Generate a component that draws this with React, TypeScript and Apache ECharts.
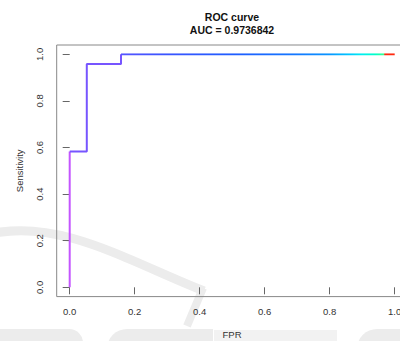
import React, { useEffect, useRef } from "react";
import * as echarts from "echarts";

// ROC points (false positive rate, sensitivity)
const fpr = [0, 0, 0.0526, 0.0526, 0.1579, 0.1579, 1];
const tpr = [0, 0.5833, 0.5833, 0.9583, 0.9583, 1, 1];
// colour segments along the curve (index ranges into fpr/tpr)
const segStart = [0, 1, 5];
const segEnd = [1, 5, 6];
const segColors = ["#c455ff", "#7755ff", "gradient"];
const tickValues = [0, 0.2, 0.4, 0.6, 0.8, 1.0];
const titleLines = ["ROC curve", "AUC = 0.9736842"];
const xName = "FPR";
const yName = "Sensitivity";

const FONT = "Liberation Sans, Arial, Helvetica, sans-serif";
const GL = 69.7, GT = 54.3, GW = 325, GH = 233;

export default function App() {
  const ref = useRef<HTMLDivElement>(null);
  useEffect(() => {
    if (!ref.current) return;
    const chart = echarts.init(ref.current, undefined, { renderer: "svg" });
    const pts = fpr.map((x, i) => [x, tpr[i]]);
    const gx1 = GL + fpr[segStart[2]] * GW;
    const gx2 = GL + fpr[segEnd[2]] * GW;
    const gradient = new echarts.graphic.LinearGradient(0, 0, 0, 0, [
      { offset: 0, color: "#5555ff" },
      { offset: 0.17, color: "#3a55ff" },
      { offset: 0.42, color: "#1f5eff" },
      { offset: 0.64, color: "#1478ff" },
      { offset: 0.76, color: "#0a95ff" },
      { offset: 0.83, color: "#00c4ff" },
      { offset: 0.88, color: "#00eef0" },
      { offset: 0.93, color: "#00ffc8" },
      { offset: 0.962, color: "#40ff88" },
      { offset: 0.963, color: "#ff2a10" },
      { offset: 1, color: "#ff2a10" },
    ]);
    (gradient as any).x = gx1;
    (gradient as any).y = 0;
    (gradient as any).x2 = gx2;
    (gradient as any).y2 = 0;
    (gradient as any).global = true;

    const series = segStart.map((s, k) => ({
      type: "line",
      data: pts.slice(s, segEnd[k] + 1),
      showSymbol: false,
      symbol: "none",
      lineStyle: {
        width: 2,
        color: segColors[k] === "gradient" ? gradient : segColors[k],
      },
      z: 5,
    }));

    const wm = "#ececec";
    chart.setOption({
      animation: false,
      grid: {
        left: GL,
        top: GT,
        width: GW,
        height: GH,
        containLabel: false,
        outerBoundsMode: "none",
      },
      xAxis: {
        type: "value",
        min: tickValues[0],
        max: tickValues[tickValues.length - 1],
        interval: 0.2,
        offset: 9.3,
        axisLine: { show: false },
        axisTick: { show: true, length: 7, lineStyle: { color: "#666" } },
        splitLine: { show: false },
        axisLabel: {
          margin: 10,
          color: "#333",
          fontSize: 9.5,
          fontFamily: FONT,
          hideOverlap: false,
          formatter: (v: number) => v.toFixed(1),
        },
      },
      yAxis: {
        type: "value",
        min: tickValues[0],
        max: tickValues[tickValues.length - 1],
        interval: 0.2,
        offset: 13,
        axisLine: { show: false },
        axisTick: { show: true, length: 7, lineStyle: { color: "#666" } },
        splitLine: { show: false },
        axisLabel: {
          margin: 12,
          rotate: 90,
          color: "#333",
          fontSize: 9.5,
          fontFamily: FONT,
          formatter: (v: number) => v.toFixed(1),
        },
      },
      graphic: [
        // faint watermark
        {
          type: "bezierCurve",
          z: -10,
          shape: { x1: -10, y1: 234, cpx1: 60, cpy1: 218, cpx2: 130, cpy2: 262, x2: 204, y2: 291 },
          style: { stroke: wm, lineWidth: 9, fill: "none" },
        },
        {
          type: "line",
          z: -10,
          shape: { x1: 203, y1: 288, x2: 187, y2: 326 },
          style: { stroke: wm, lineWidth: 8 },
        },
        { type: "rect", z: -10, shape: { x: -5, y: 329, width: 88, height: 20, r: [0, 14, 0, 0] }, style: { fill: wm } },
        { type: "rect", z: -10, shape: { x: 107, y: 329, width: 106, height: 20, r: [26, 0, 0, 0] }, style: { fill: wm } },
        { type: "rect", z: -10, shape: { x: 214, y: 330, width: 123, height: 20, r: 0 }, style: { fill: "#f2f2f2" } },
        { type: "rect", z: -10, shape: { x: 357, y: 329, width: 60, height: 20, r: [26, 0, 0, 0] }, style: { fill: wm } },
        // plot box
        {
          type: "rect",
          z: 1,
          shape: { x: 56.7, y: 45, width: 351, height: 251.6 },
          style: { fill: "none", stroke: "#888", lineWidth: 1 },
        },
        {
          type: "text",
          x: 232,
          y: 17,
          style: {
            text: titleLines[0],
            font: `bold 10.5px ${FONT}`,
            fill: "#111",
            align: "center",
            verticalAlign: "middle",
            textAlign: "center",
            textVerticalAlign: "middle",
          },
        },
        {
          type: "text",
          x: 232,
          y: 30,
          style: {
            text: titleLines[1],
            font: `bold 10.5px ${FONT}`,
            fill: "#111",
            align: "center",
            verticalAlign: "middle",
            textAlign: "center",
            textVerticalAlign: "middle",
          },
        },
        {
          type: "text",
          x: 232,
          y: 334.3,
          style: {
            text: xName,
            font: `9.5px ${FONT}`,
            fill: "#333",
            align: "center",
            verticalAlign: "middle",
            textAlign: "center",
            textVerticalAlign: "middle",
          },
        },
        {
          type: "text",
          x: 19,
          y: 170.8,
          rotation: Math.PI / 2,
          style: {
            text: yName,
            font: `9.5px ${FONT}`,
            fill: "#333",
            align: "center",
            verticalAlign: "middle",
            textAlign: "center",
            textVerticalAlign: "middle",
          },
        },
      ],
      series,
    });
    return () => chart.dispose();
  }, []);
  return (
    <div
      ref={ref}
      style={{ position: "fixed", left: 0, top: 0, width: 400, height: 341, background: "#fff" }}
    />
  );
}
